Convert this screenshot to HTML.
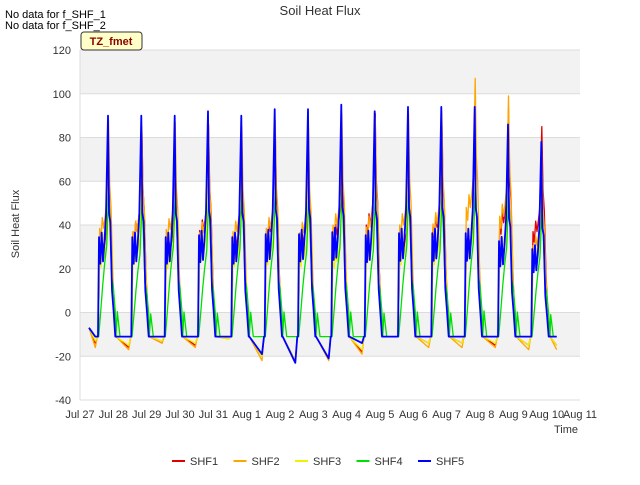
<!DOCTYPE html>
<html><head><meta charset="utf-8"><style>
body{margin:0;background:#fff;font-family:"Liberation Sans",sans-serif}
svg text{font-family:"Liberation Sans",sans-serif}
</style></head><body>
<svg id="c" width="640" height="480" xmlns="http://www.w3.org/2000/svg">
<text x="5" y="18" font-size="11">No data for f_SHF_1</text>
<text x="5" y="29" font-size="11">No data for f_SHF_2</text>
<text x="320" y="15" font-size="13" fill="#333" text-anchor="middle">Soil Heat Flux</text>
<g id="plot"></g>
<rect x="81" y="32" width="61" height="18" rx="3" fill="#ffffc8" stroke="#333"/>
<text x="111" y="45" font-size="11" font-weight="bold" fill="#8b0000" text-anchor="middle">TZ_fmet</text>
<text transform="translate(19,224) rotate(-90)" font-size="11" text-anchor="middle" fill="#333">Soil Heat Flux</text>
<text x="566" y="433" font-size="11" text-anchor="middle" fill="#333">Time</text>
<g id="legend"></g>
</svg>
<script>
const days = ["Jul 27","Jul 28","Jul 29","Jul 30","Jul 31","Aug 1","Aug 2","Aug 3","Aug 4","Aug 5","Aug 6","Aug 7","Aug 8","Aug 9","Aug 10","Aug 11"];
const yTicks = [-40,-20,0,20,40,60,80,100,120];
const seriesNames = ["SHF1","SHF2","SHF3","SHF4","SHF5"];
const peakSHF1 = [68,85,68,86,72,85,74,82,91,66,89,70,93,85,65];
const peakSHF2 = [88,85,87,84,85,88,84,91,89,91,92,107,99,72];
const peakSHF3 = [60,62,58,65,60,62,60,58,64,62,62,68,64,58];
const peakSHF4 = [56,50,55,52,54,55,52,55,52,55,52,58,55,48];
const peakSHF5 = [90,90,90,92,90,93,93,95,92,94,94,94,86,78];
const nightSHF1 = [-14,-16,-14,-15,-12,-20,-22,-21,-18,-11,-14,-14,-15,-15,-15];
const nightSHF2 = [-16,-17,-14,-16,-12,-22,-23,-22,-19,-11,-16,-16,-16,-17,-17];
const nightSHF3 = [-13,-15,-13,-14,-12,-20,-22,-21,-17,-11,-14,-14,-14,-15,-15];
const nightSHF4 = [-11,-11,-11,-11,-11,-11,-11,-11,-11,-11,-11,-11,-11,-11,-11];
const nightSHF5 = [-11,-11,-11,-11,-11,-19,-23,-21,-14,-11,-11,-11,-11,-11,-11];
const phaseA = [0.54,0.57,0.61,0.65,0.69,0.73,0.78,0.84,0.87,0.91,0.96,1.01,1.06];
const profA  = [0,0.45,0.33,0.47,0.34,0.42,0.55,1.0,0.56,0.52,0.21,0.11,0];
const phaseB = [0.55,0.59,0.63,0.67,0.71,0.75,0.80,0.855,0.89,0.93,0.98,1.03,1.08];
const profB  = [0,0.5,0.45,0.55,0.5,0.55,0.62,1.0,0.7,0.6,0.3,0.12,0];
const phaseG = [0.56,0.62,0.68,0.74,0.80,0.86,0.90,0.95,1.00,1.06,1.12,1.2];
const profG  = [0,0.17,0.35,0.5,0.62,1.0,0.78,0.4,0.34,0.17,0.17,0];
const base = -11;
const X0=80,X1=580,Y0=400,Y1=50;
const xs=d=>X0+(X1-X0)*d/15;
const ys=v=>Y0-(Y0-Y1)*(v+40)/160;
const NS="http://www.w3.org/2000/svg";
function el(t,a,p){const e=document.createElementNS(NS,t);for(const k in a)e.setAttribute(k,a[k]);p.appendChild(e);return e;}
const plot=document.getElementById('plot');
const bg=el('rect',{x:X0,y:Y1,width:X1-X0,height:Y0-Y1,fill:'#fff'},plot);


for(let i=0;i<yTicks.length-1;i++){
  if(i%2===1){const r=el('rect',{x:X0,y:ys(yTicks[i+1]),width:X1-X0,height:ys(yTicks[i])-ys(yTicks[i+1]),fill:'#f2f2f2'},plot);
  
  }
}
yTicks.forEach(v=>{
  const g=el('line',{x1:X0,x2:X1,y1:ys(v),y2:ys(v),stroke:'#dcdcdc','stroke-width':1},plot);
  
  
  const t=el('text',{x:71,y:ys(v)+4,'font-size':11,'text-anchor':'end',fill:'#333'},plot);
  t.textContent=v;
  
  
});
const ax=el('line',{x1:X0,x2:X0,y1:Y1,y2:Y0,stroke:'#dcdcdc','stroke-width':1},plot);


days.forEach((d,i)=>{
  const t=el('text',{x:xs(i),y:418,'font-size':11,'text-anchor':'middle',fill:'#333'},plot);
  t.textContent=d;
  
  
});
function build(peaks,nights,ph,pr){
  const pts=[[0.27,base+4]];
  for(let d=0;d<peaks.length;d++){
    pts.push([d+0.08,base]);pts.push([d+0.46,nights[d]]);pts.push([d+0.52,base]);
    for(let k=0;k<ph.length;k++)pts.push([d+ph[k],base+(peaks[d]-base)*pr[k]]);
  }
  pts.push([14.1,base]);pts.push([14.3,nights[14]]);
  return pts.filter(p=>p[0]>=0.27&&p[0]<=14.3).sort((a,b)=>a[0]-b[0]);
}
const cols=["#e00000","#ffa500","#f0f000","#00e000","#0000ff"];
const data=[[peakSHF1,nightSHF1,phaseB,profB],[peakSHF2,nightSHF2,phaseB,profB],[peakSHF3,nightSHF3,phaseB,profB],[peakSHF4,nightSHF4,phaseG,profG],[peakSHF5,nightSHF5,phaseA,profA]];
data.forEach((s,i)=>{
  const pts=build(...s);
  const p=el('polyline',{points:pts.map(q=>xs(q[0]).toFixed(1)+','+ys(q[1]).toFixed(1)).join(' '),fill:'none',stroke:cols[i],'stroke-width':i==4?1.8:1.3,'stroke-linejoin':'round'},plot);
  
  
});
const lg=document.getElementById('legend');
seriesNames.forEach((n,i)=>{
  const x=172+i*61.5;
  const l=el('line',{x1:x,x2:x+13,y1:461,y2:461,stroke:cols[i],'stroke-width':2},lg);
  
  
  const t=el('text',{x:x+18,y:465,'font-size':11,fill:'#333'},lg);
  t.textContent=n;
  
  
});
</script>
</body></html>
